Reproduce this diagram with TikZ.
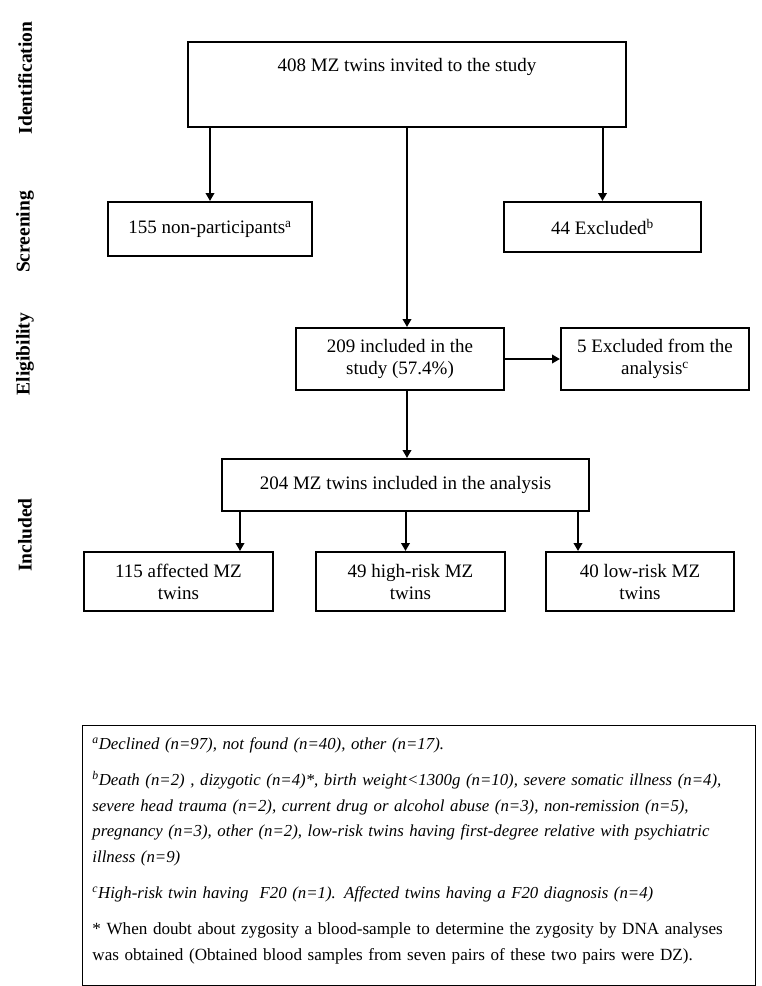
\documentclass[tikz,border=0pt]{standalone}
\usepackage{fontspec}
\setmainfont{Liberation Serif}
\usetikzlibrary{arrows.meta}

\begin{document}
\begin{tikzpicture}[x=1pt, y=-1pt]
        \tikzstyle{stage} = [rectangle, draw, line width=2pt, align=center, inner sep=2pt, font=\fontsize{19}{22}\selectfont]
        \tikzstyle{phase} = [rotate=90, font=\fontsize{19.5}{22}\selectfont\bfseries]
        \tikzstyle{flow} = [-{Triangle[length=8pt, width=8.5pt]}, line width=2pt]

        \useasboundingbox (0,0) rectangle (761,986);

        % phases down the left side
        \node (identification) [phase] at (25,78) {Identification};
        \node (screening) [phase] at (25,232) {Screening};
        \node (eligibility) [phase] at (25,354) {Eligibility};
        \node (inclusion) [phase] at (25,535) {Included};

        % flow boxes
        \node (invited) [stage, minimum width=438pt, minimum height=85pt, inner sep=0pt, text height=29pt, text depth=56pt] at (407,84.5) {408 MZ twins invited to the study};
        \node (nonpart) [stage, minimum width=204pt, minimum height=54pt] at (210,229) {155 non-participants\textsuperscript{a}};
        \node (excluded) [stage, minimum width=197pt, minimum height=50pt] at (602.5,227) {44 Excluded\textsuperscript{b}};
        \node (included) [stage, minimum width=208pt, minimum height=62pt] at (400,359) {209 included in the\\study (57.4\%)};
        \node (removed) [stage, minimum width=188pt, minimum height=62pt] at (655,359) {5 Excluded from the\\analysis\textsuperscript{c}};
        \node (analysed) [stage, minimum width=367pt, minimum height=52pt] at (405.5,485) {204 MZ twins included in the analysis};
        \node (affected) [stage, minimum width=189pt, minimum height=59pt] at (178.5,581.5) {115 affected MZ\\twins};
        \node (highrisk) [stage, minimum width=189pt, minimum height=59pt] at (410.5,581.5) {49 high-risk MZ\\twins};
        \node (lowrisk) [stage, minimum width=188pt, minimum height=59pt] at (640,581.5) {40 low-risk MZ\\twins};

        \draw[flow] (invited.south -| nonpart.north) -- (nonpart.north);
        \draw[flow] (invited.south -| excluded.north) -- (excluded.north);
        \draw[flow] (invited.south) -- (invited.south |- included.north);
        \draw[flow] (included.east) -- (removed.west);
        \draw[flow] (included.south -| invited.south) -- (analysed.north -| invited.south);
        \draw[flow] ([xshift=19pt]analysed.south west) -- ([xshift=19pt]analysed.south west |- affected.north);
        \draw[flow] (analysed.south) -- (analysed.south |- highrisk.north);
        \draw[flow] ([xshift=-12pt]analysed.south east) -- ([xshift=-12pt]analysed.south east |- lowrisk.north);

        % footnotes
        \node (notes) [draw, line width=0.9pt, anchor=north west, minimum width=673pt, minimum height=260pt, text width=653pt, inner xsep=10pt, align=left, font=\fontsize{16.8}{25.8}\selectfont\itshape] at (82,725) {%
            \textsuperscript{a}Declined (n=97), not found (n=40), other (n=17).\\[10pt]
            \textsuperscript{b}Death (n=2) , dizygotic (n=4)*, birth weight<1300g (n=10), severe somatic illness (n=4),\\
            severe head trauma (n=2), current drug or alcohol abuse (n=3), non-remission (n=5),\\
            pregnancy (n=3), other (n=2), low-risk twins having first-degree relative with psychiatric\\
            illness (n=9)\\[10pt]
            \textsuperscript{c}High-risk twin having~ F20 (n=1). Affected twins having a F20 diagnosis (n=4)\\[10pt]
            \fontsize{17.1}{25.8}\selectfont\upshape * When doubt about zygosity a blood-sample to determine the zygosity by DNA analyses\\
            was obtained (Obtained blood samples from seven pairs of these two pairs were DZ).\rule[-13pt]{0pt}{13pt}};
    \end{tikzpicture}
\end{document}
